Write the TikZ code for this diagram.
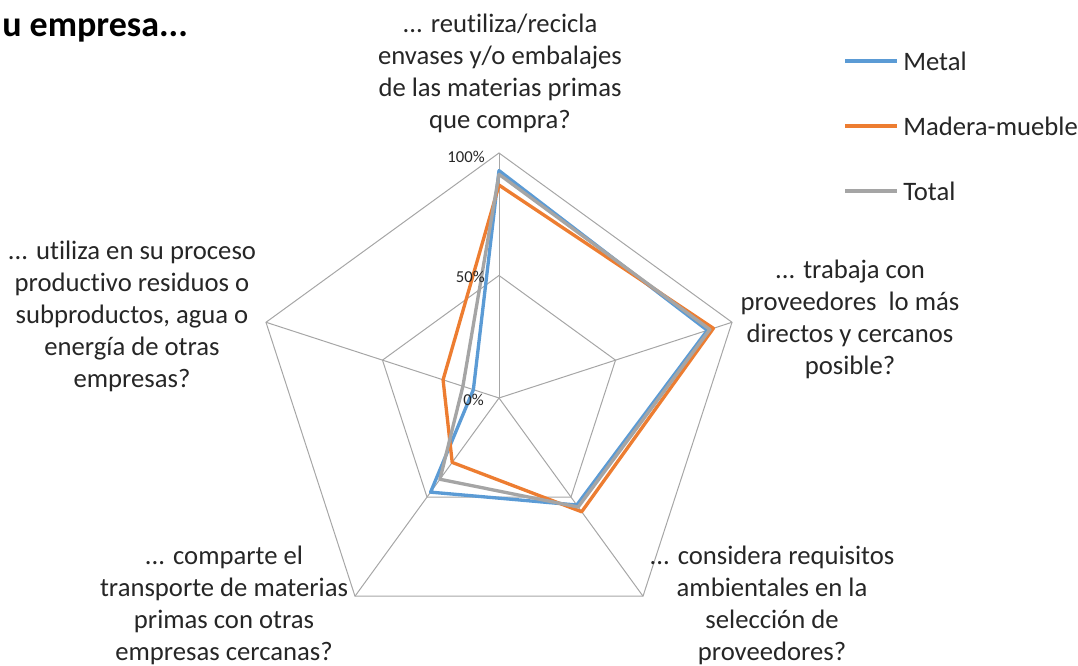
\documentclass[tikz,border=0pt]{standalone}
\usepackage{fontspec}
\setmainfont[Ligatures=NoCommon]{Carlito}
\usetikzlibrary{calc}
\definecolor{metal}{HTML}{5B9BD5}
\definecolor{madera}{HTML}{ED7D31}
\definecolor{total}{HTML}{A5A5A5}
\definecolor{gridc}{HTML}{A6A6A6}
\definecolor{txt}{HTML}{262626}
\begin{document}
\begin{tikzpicture}[x=0.75pt,y=0.75pt,
 axislabel/.style={align=center,text=txt,font=\fontsize{20}{24}\selectfont,inner sep=0pt},
 legtext/.style={anchor=west,text=txt,font=\fontsize{20}{24}\selectfont,inner sep=0pt},
 pct/.style={text=txt,font=\fontsize{12.5}{14}\selectfont,anchor=east,inner sep=0pt},
 gridline/.style={draw=gridc,line width=0.75pt},
 series/.style={line width=2.5pt,line join=round}
]
\useasboundingbox (0,0) rectangle (1078,666);
\coordinate (C) at (499,268);
\foreach \k in {0,...,4} {
  \coordinate (V\k) at ($(C)+({90-72*\k}:245)$);
  \coordinate (H\k) at ($(C)+({90-72*\k}:122.5)$);
}
\draw[gridline] (V0)--(V1)--(V2)--(V3)--(V4)--cycle;
\draw[gridline] (H0)--(H1)--(H2)--(H3)--(H4)--cycle;
\foreach \k in {0,...,4} \draw[gridline] (C)--(V\k);
% series points
\foreach \v [count=\i from 0] in {0.928,0.894,0.54,0.475,0.11}
  \coordinate (M\i) at ($(C)+({90-72*\i}:{245*\v})$);
\foreach \v [count=\i from 0] in {0.869,0.92,0.574,0.325,0.24}
  \coordinate (W\i) at ($(C)+({90-72*\i}:{245*\v})$);
\foreach \v [count=\i from 0] in {0.913,0.905,0.55,0.41,0.155}
  \coordinate (T\i) at ($(C)+({90-72*\i}:{245*\v})$);
\draw[series,metal] (M0)--(M1)--(M2)--(M3)--(M4)--cycle;
\draw[series,madera] (W0)--(W1)--(W2)--(W3)--(W4)--cycle;
\draw[series,total] (T0)--(T1)--(T2)--(T3)--(T4)--cycle;
% percent labels
\node[pct] (p100) at (485,509) {100\%};
\node[pct] (p50) at (485,389) {50\%};
\node[pct] (p0) at (484,266) {0\%};
% axis labels
\node[axislabel] (a0) at (500,593) {... reutiliza/recicla\\envases y/o embalajes\\de las materias primas\\que compra?};
\node[axislabel] (a1) at (850,347) {... trabaja con\\proveedores\ \ lo más\\directos y cercanos\\posible?};
\node[axislabel] (a2) at (772,61) {... considera requisitos\\ambientales en la\\selección de\\proveedores?};
\node[axislabel] (a3) at (224,61) {... comparte el\\transporte de materias\\primas con otras\\empresas cercanas?};
\node[axislabel] (a4) at (132,350) {... utiliza en su proceso\\productivo residuos o\\subproductos, agua o\\energía de otras\\empresas?};
% title
\node[anchor=west,inner sep=0pt,text=black,font=\fontsize{27}{30}\selectfont\bfseries] (title) at (2,636) {u empresa...};
% legend
\coordinate (L1a) at (845,605); \coordinate (L1b) at (897,605);
\coordinate (L2a) at (845,540); \coordinate (L2b) at (897,540);
\coordinate (L3a) at (845,475); \coordinate (L3b) at (897,475);
\draw[series,metal] (L1a)--(L1b);
\draw[series,madera] (L2a)--(L2b);
\draw[series,total] (L3a)--(L3b);
\node[legtext] (l1) at (903,605) {Metal};
\node[legtext] (l2) at (903,540) {Madera-mueble};
\node[legtext] (l3) at (903,475) {Total};
\end{tikzpicture}
\end{document}
